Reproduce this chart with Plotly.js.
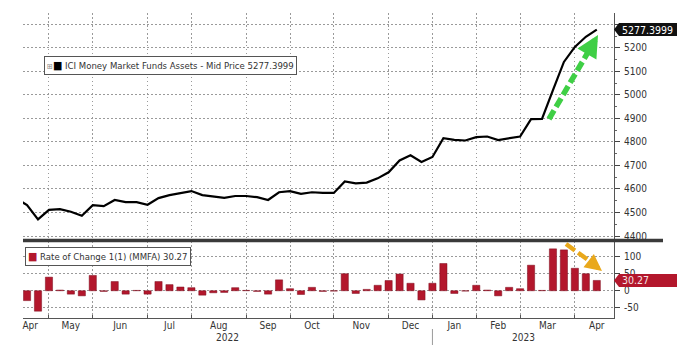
<!DOCTYPE html>
<html>
<head>
<meta charset="utf-8">
<script src="https://cdn.plot.ly/plotly-3.0.1.min.js"></script>
<style>
html,body{margin:0;padding:0;background:#fff;}
#chart{width:677px;height:353px;}
</style>
</head>
<body>
<div id="chart"></div>
<script>
// ---- data (weekly, Wednesdays) ----
const dates = [
 '2022-04-13','2022-04-20','2022-04-27','2022-05-04','2022-05-11','2022-05-18','2022-05-25',
 '2022-06-01','2022-06-08','2022-06-15','2022-06-22','2022-06-29','2022-07-06','2022-07-13',
 '2022-07-20','2022-07-27','2022-08-03','2022-08-10','2022-08-17','2022-08-24','2022-08-31',
 '2022-09-07','2022-09-14','2022-09-21','2022-09-28','2022-10-05','2022-10-12','2022-10-19',
 '2022-10-26','2022-11-02','2022-11-09','2022-11-16','2022-11-23','2022-11-30','2022-12-07',
 '2022-12-14','2022-12-21','2022-12-28','2023-01-04','2023-01-11','2023-01-18','2023-01-25',
 '2023-02-01','2023-02-08','2023-02-15','2023-02-22','2023-03-01','2023-03-08','2023-03-15',
 '2023-03-22','2023-03-29','2023-04-05','2023-04-12','2023-04-19'
];
const assets = [
 4560, 4531, 4471, 4511, 4514, 4503, 4486,
 4531, 4527, 4553, 4544, 4544, 4533, 4561,
 4574, 4583, 4591, 4574, 4567, 4562, 4570,
 4570, 4565, 4553, 4586, 4591, 4579, 4586,
 4583, 4583, 4632, 4624, 4627, 4645, 4671,
 4721, 4743, 4715, 4736, 4816, 4809, 4806,
 4820, 4823, 4808, 4817, 4823, 4897, 4898,
 5020, 5140, 5204, 5247, 5277.3999
];
const rateOfChange = [
 null, -29, -60, 40, 2, -10, -15,
 45, -2, 27, -10, 1, -10, 27,
 18, 11, 9, -13, -6, -5, 9,
 1, -2, -10, 32, 6, -11, 10,
 -2, -1, 50, -8, 4, 16, 30,
 49, 22, -27, 22, 80, -8, -1,
 16, 2, -15, 10, 6, 75, 1,
 123, 120, 66, 50, 30.27
];
// month boundaries (first data point of each month) -> vertical grid
const monthGridDates = ['2022-05-04','2022-06-01','2022-07-06','2022-08-03','2022-09-07','2022-10-05',
 '2022-11-02','2022-12-07','2023-01-04','2023-02-01','2023-03-01','2023-04-05'];
// month labels (centred between boundaries)
const monthLabelDates = ['2022-04-22','2022-05-18','2022-06-18 12:00','2022-07-20','2022-08-20 12:00',
 '2022-09-21','2022-10-19','2022-11-19 12:00','2022-12-21','2023-01-18','2023-02-15','2023-03-18 12:00','2023-04-19'];
const monthLabels = ['Apr','May','Jun','Jul','Aug','Sep','Oct','Nov','Dec','Jan','Feb','Mar','Apr'];
const yearLabels = ['2022','2023'];
const topTicks = [4400,4500,4600,4700,4800,4900,5000,5100,5200,5300];
const topTickText = ['4400','4500','4600','4700','4800','4900','5000','5100','5200',''];
const botTicks = [-50,0,50,100];
const botTickText = ['-50','0','50','100'];
const lineName = 'ICI Money Market Funds Assets - Mid Price';
const barName = 'Rate of Change 1(1) (MMFA)';

// ---- layout helpers ----
const W = 677, H = 353, L = 23, R = 63, T = 13, B = 35;
const PW = W - L - R, PH = H - T - B;
const px = x => (x - L) / PW;
const py = y => (H - B - y) / PH;
const xRange = ['2022-04-17 10:00', '2023-04-30 00:00'];
const FONT = 'Liberation Sans Narrow, DejaVu Sans Condensed, Arial Narrow, sans-serif';
const TXT = '#333333';
const GRID = '#9a9a9a';
const GDASH = '1.5px,2.5px';
const RED = '#b3172c';
const GREEN = '#3fcf45';
const GOLD = '#e9a81b';

const lastAsset = assets[assets.length - 1];
const lastRoc = rateOfChange[rateOfChange.length - 1];

const traces = [
  { type: 'scatter', mode: 'lines', x: dates, y: assets, xaxis: 'x2', yaxis: 'y2',
    line: { color: '#000', width: 2.2 }, hoverinfo: 'skip', showlegend: false },
  { type: 'bar', x: dates, y: rateOfChange, xaxis: 'x', yaxis: 'y',
    width: 4.6 * 86400000, marker: { color: RED, line: { color: '#7d0f1f', width: 0.5 } },
    hoverinfo: 'skip', showlegend: false },
  // empty carrier trace for the month-label axis
  { type: 'scatter', mode: 'markers', x: [], y: [], xaxis: 'x3', yaxis: 'y',
    hoverinfo: 'skip', showlegend: false }
];

// year label positions: centre of each year's span on the axis
const t0 = new Date(xRange[0].replace(' ', 'T') + 'Z').getTime();
const tSplit = new Date(monthGridDates[8] + 'T00:00:00Z').getTime();
const t1 = new Date(xRange[1].replace(' ', 'T') + 'Z').getTime();
const yearPos = [new Date((t0 + tSplit) / 2).toISOString(), new Date((tSplit + t1) / 2).toISOString()];

const splitY = py(240.5);
const gridAxis = {
  type: 'date', range: xRange, tickmode: 'array', tickvals: monthGridDates,
  showticklabels: false, showgrid: true, gridcolor: GRID, griddash: GDASH, gridwidth: 1, zeroline: false
};

const tagPath = w => 'M 0 0 L 5 6.5 L ' + w + ' 6.5 L ' + w + ' -6.5 L 5 -6.5 Z';

const layout = {
  width: W, height: H,
  margin: { l: L, r: R, t: T, b: B },
  paper_bgcolor: '#fff', plot_bgcolor: '#fff',
  font: { family: FONT, size: 10, color: TXT },
  showlegend: false,
  xaxis: Object.assign({}, gridAxis, {
    domain: [0, 1], anchor: 'y',
    ticks: 'inside', ticklen: 3, tickcolor: '#555', tickwidth: 1,
    showline: true, linecolor: '#555', linewidth: 1
  }),
  xaxis2: Object.assign({}, gridAxis, {
    domain: [0, 1], anchor: 'y2', matches: 'x', ticks: '', showline: false
  }),
  xaxis3: {
    type: 'date', overlaying: 'x', anchor: 'y', side: 'bottom', matches: 'x', range: xRange,
    tickmode: 'array', tickvals: monthLabelDates, ticktext: monthLabels,
    ticks: '', showgrid: false, zeroline: false, showline: false,
    tickfont: { family: FONT, size: 10, color: TXT }
  },
  yaxis: {
    domain: [0, py(241)], anchor: 'x', side: 'right', range: [-80, 146],
    tickmode: 'array', tickvals: botTicks, ticktext: botTickText,
    ticks: 'outside', ticklen: 5, tickcolor: '#444', tickwidth: 1,
    showgrid: true, gridcolor: GRID, griddash: GDASH, gridwidth: 1, zeroline: false,
    showline: true, linecolor: '#555', linewidth: 1,
    tickfont: { family: FONT, size: 10, color: TXT }, ticklabelstandoff: 2
  },
  yaxis2: {
    domain: [py(240), 1], anchor: 'x2', side: 'right', range: [4383, 5348],
    tickmode: 'array', tickvals: topTicks, ticktext: topTickText,
    ticks: 'outside', ticklen: 5, tickcolor: '#444', tickwidth: 1,
    minor: { tickmode: 'linear', tick0: 4350, dtick: 100, ticks: 'outside', ticklen: 2, tickcolor: '#666', showgrid: false },
    showgrid: true, gridcolor: GRID, griddash: GDASH, gridwidth: 1, zeroline: false,
    showline: true, linecolor: '#555', linewidth: 1,
    tickfont: { family: FONT, size: 10, color: TXT }, ticklabelstandoff: 2
  },
  shapes: [
    // panel separator
    { type: 'line', xref: 'paper', yref: 'paper', x0: 0, x1: px(663), y0: splitY, y1: splitY,
      line: { color: '#3a3a3a', width: 3.5 } },
    // year separator tick
    { type: 'line', xref: 'x', yref: 'paper', x0: monthGridDates[8], x1: monthGridDates[8],
      y0: py(329), y1: py(345), line: { color: '#9a9a9a', width: 1 } },
    // green dashed arrow shaft
    { type: 'line', xref: 'paper', yref: 'paper', x0: px(549), y0: py(119), x1: px(591), y1: py(47),
      line: { color: GREEN, width: 5.5, dash: '10px,4px' } },
    // gold dashed arrow shaft
    { type: 'line', xref: 'paper', yref: 'paper', x0: px(566), y0: py(244), x1: px(595), y1: py(265),
      line: { color: GOLD, width: 4.5, dash: '11px,4px' } },
    // last-value tags
    { type: 'path', layer: 'above', xref: 'paper', xsizemode: 'pixel', xanchor: 1,
      yref: 'y2', ysizemode: 'pixel', yanchor: lastAsset, path: tagPath(70),
      fillcolor: '#111', line: { width: 0 } },
    { type: 'path', layer: 'above', xref: 'paper', xsizemode: 'pixel', xanchor: 1,
      yref: 'y', ysizemode: 'pixel', yanchor: lastRoc, path: tagPath(70),
      fillcolor: RED, line: { width: 0 } }
  ],
  annotations: [
    // legend boxes
    { xref: 'paper', yref: 'paper', x: px(44), y: py(65), xanchor: 'left', yanchor: 'middle',
      text: '<span style="color:#888;font-size:8px">⊞</span><span style="color:#000;font-size:11px">■</span> ' +
            lineName + ' ' + String(lastAsset),
      showarrow: false, bgcolor: '#fff', bordercolor: '#555', borderwidth: 1, borderpad: 2,
      font: { family: FONT, size: 9.5, color: TXT } },
    { xref: 'paper', yref: 'paper', x: px(25), y: py(256), xanchor: 'left', yanchor: 'middle',
      text: '<span style="color:' + RED + ';font-size:11px">■</span> ' + barName + ' ' + String(lastRoc),
      showarrow: false, bgcolor: '#fff', bordercolor: '#555', borderwidth: 1, borderpad: 2,
      font: { family: FONT, size: 9.5, color: TXT } },
    // last-value tag texts
    { xref: 'paper', yref: 'y2', x: 1, y: lastAsset, xanchor: 'left', yanchor: 'middle', xshift: 6,
      text: String(lastAsset), showarrow: false, font: { family: FONT, size: 10.5, color: '#fff' } },
    { xref: 'paper', yref: 'y', x: 1, y: lastRoc, xanchor: 'left', yanchor: 'middle', xshift: 6,
      text: String(lastRoc), showarrow: false, font: { family: FONT, size: 10.5, color: '#f6e4e6' } },
    // year labels
    { xref: 'x', yref: 'paper', x: yearPos[0], y: py(337), yanchor: 'middle', text: yearLabels[0],
      showarrow: false, font: { family: FONT, size: 10, color: TXT } },
    { xref: 'x', yref: 'paper', x: yearPos[1], y: py(337), yanchor: 'middle', text: yearLabels[1],
      showarrow: false, font: { family: FONT, size: 10, color: TXT } },
    // arrow heads
    { xref: 'paper', yref: 'paper', x: px(598), y: py(35), ax: -7, ay: 12, text: '', showarrow: true,
      arrowhead: 2, arrowsize: 0.8, arrowwidth: 5.5, arrowcolor: GREEN, standoff: 0 },
    { xref: 'paper', yref: 'paper', x: px(602), y: py(271), ax: -9, ay: -7, text: '', showarrow: true,
      arrowhead: 2, arrowsize: 0.75, arrowwidth: 4.5, arrowcolor: GOLD, standoff: 0 }
  ]
};

Plotly.newPlot('chart', traces, layout, { staticPlot: true, displayModeBar: false });
</script>
</body>
</html>
